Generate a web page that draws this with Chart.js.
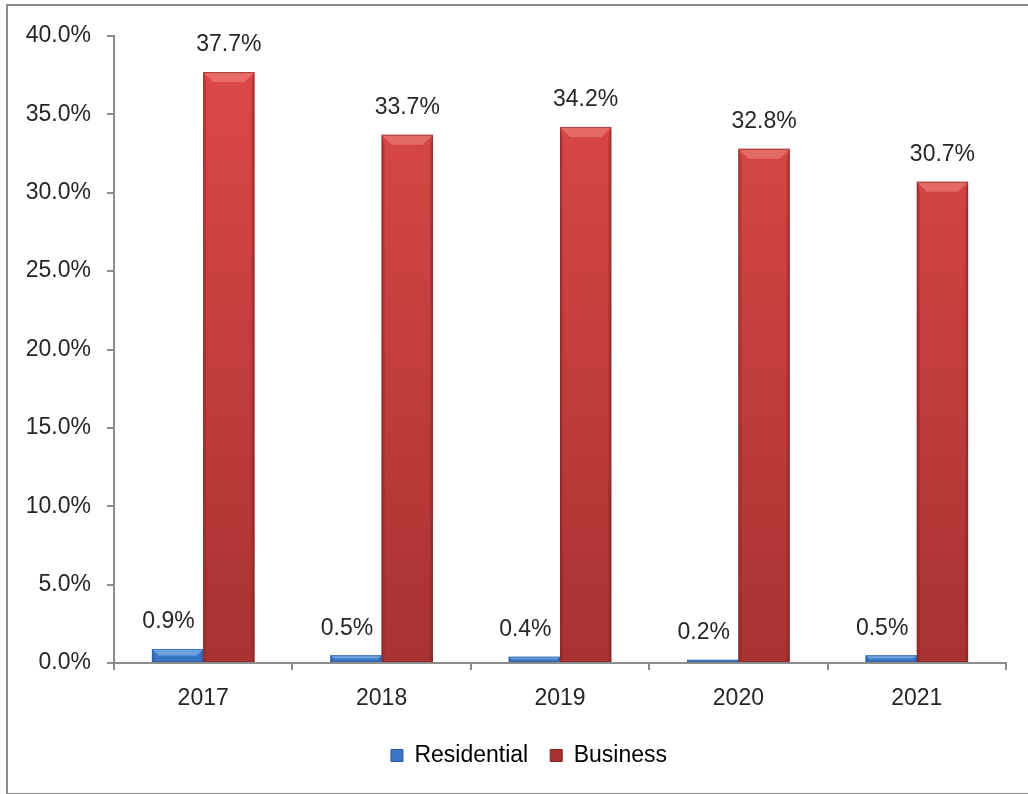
<!DOCTYPE html>
<html>
<head>
<meta charset="utf-8">
<script src="https://cdn.jsdelivr.net/npm/chart.js@4"></script>
<style>
  html, body { margin: 0; padding: 0; background: #fff; overflow: hidden; }
  #wrap { position: relative; width: 1028px; height: 794px; }
  #frame {
    position: absolute; left: 6px; top: 4px; width: 1040px; height: 787px;
    border: 2px solid #8c8c8c; pointer-events: none;
  }
</style>
</head>
<body>
<div id="wrap">
  <canvas id="rateChart" width="1028" height="794"></canvas>
  <div id="frame"></div>
</div>
<script>
const years = ["2017", "2018", "2019", "2020", "2021"];
const residential = [0.9, 0.5, 0.4, 0.2, 0.5];
const business = [37.7, 33.7, 34.2, 32.8, 30.7];
const yTicks = [0, 5, 10, 15, 20, 25, 30, 35, 40];

const FONT = "'Liberation Sans', Arial, sans-serif";
const FONT_SIZE = 23;

const palette = {
    Residential: { top: "#5fa2e4", bottom: "#3a76c4", edge: "#2a5a9c", light: "#8cc0f0", labelShift: -9 },
    Business: { top: "#de4a47", bottom: "#a83232", edge: "#7e2222", light: "#f08480", labelShift: 0 }
};

function barGradient(name) {
    return function (ctx) {
        const area = ctx.chart.chartArea;
        if (!area) return palette[name].top;
        const g = ctx.chart.ctx.createLinearGradient(0, area.top, 0, area.bottom);
        g.addColorStop(0, palette[name].top);
        g.addColorStop(1, palette[name].bottom);
        return g;
    };
}

// bevelled edges on each bar
const bevel = {
    id: "bevel",
    afterDatasetsDraw(chart) {
        const c = chart.ctx;
        chart.data.datasets.forEach((ds, i) => {
            const col = palette[ds.label];
            chart.getDatasetMeta(i).data.forEach(el => {
                const p = el.getProps(["x", "y", "base", "width"], true);
                const l = p.x - p.width / 2, r = p.x + p.width / 2;
                const t = p.y, b = p.base;
                const d = Math.min(10, (b - t) / 2);
                c.save();
                // top facet
                c.fillStyle = col.light;
                c.globalAlpha = 0.6;
                c.beginPath();
                c.moveTo(l, t); c.lineTo(r, t); c.lineTo(r - d, t + d); c.lineTo(l + d, t + d);
                c.closePath(); c.fill();
                // side facets
                c.fillStyle = col.edge;
                c.globalAlpha = 0.35;
                c.beginPath();
                c.moveTo(l, t); c.lineTo(l + 3, t + d); c.lineTo(l + 3, b); c.lineTo(l, b);
                c.closePath(); c.fill();
                c.beginPath();
                c.moveTo(r, t); c.lineTo(r - 3, t + d); c.lineTo(r - 3, b); c.lineTo(r, b);
                c.closePath(); c.fill();
                c.globalAlpha = 0.6;
                c.strokeStyle = col.edge;
                c.lineWidth = 1;
                c.strokeRect(l + 0.5, t + 0.5, p.width - 1, b - t - 1);
                c.restore();
            });
        });
    }
};

// value labels above bars
const valueLabels = {
    id: "valueLabels",
    afterDatasetsDraw(chart) {
        const c = chart.ctx;
        c.save();
        c.font = FONT_SIZE + "px " + FONT;
        c.fillStyle = "#262626";
        c.textAlign = "center";
        c.textBaseline = "middle";
        chart.data.datasets.forEach((ds, i) => {
            const shift = palette[ds.label].labelShift;
            chart.getDatasetMeta(i).data.forEach((el, j) => {
                c.fillText(ds.data[j].toFixed(1) + "%", el.x + shift, el.y - 27);
            });
        });
        c.restore();
    }
};

// nudge the legend a little to the right, under the plot
const legendShift = {
    id: "legendShift",
    afterLayout(chart) {
        chart.legend.left += 26;
        chart.legend.right += 26;
    }
};

new Chart(document.getElementById("rateChart"), {
    type: "bar",
    data: {
        labels: years,
        datasets: [{
            label: "Residential",
            data: residential,
            backgroundColor: barGradient("Residential")
        }, {
            label: "Business",
            data: business,
            backgroundColor: barGradient("Business")
        }]
    },
    options: {
        responsive: false,
        animation: false,
        devicePixelRatio: 1,
        layout: { padding: { top: 36, right: 22, bottom: 17, left: 0 } },
        datasets: {
            bar: { categoryPercentage: 0.575, barPercentage: 1.0 }
        },
        scales: {
            x: {
                grid: { offset: true, drawOnChartArea: false, drawTicks: true, tickLength: 7, color: "#8c8c8c", lineWidth: 2 },
                border: { color: "#8c8c8c", width: 2 },
                ticks: { color: "#262626", font: { family: FONT, size: FONT_SIZE }, padding: 15 },
                afterFit(scale) { scale.height = 59; }
            },
            y: {
                min: 0,
                max: 40,
                afterBuildTicks(scale) { scale.ticks = yTicks.map(v => ({ value: v })); },
                grid: { drawOnChartArea: false, drawTicks: true, tickLength: 7, color: "#8c8c8c", lineWidth: 2 },
                border: { color: "#8c8c8c", width: 2 },
                ticks: {
                    color: "#262626",
                    font: { family: FONT, size: FONT_SIZE },
                    padding: 16,
                    callback: v => v.toFixed(1) + "%"
                },
                afterFit(scale) { scale.width = 114; }
            }
        },
        plugins: {
            legend: {
                position: "bottom",
                labels: {
                    color: "#262626",
                    font: { family: FONT, size: FONT_SIZE },
                    boxWidth: 12,
                    boxHeight: 12,
                    padding: 22,
                    generateLabels(chart) {
                        return chart.data.datasets.map((ds, i) => ({
                            text: ds.label,
                            fillStyle: palette[ds.label].bottom,
                            strokeStyle: palette[ds.label].edge,
                            lineWidth: 1,
                            datasetIndex: i
                        }));
                    }
                }
            },
            tooltip: { enabled: false }
        }
    },
    plugins: [bevel, valueLabels, legendShift]
});
</script>
</body>
</html>
